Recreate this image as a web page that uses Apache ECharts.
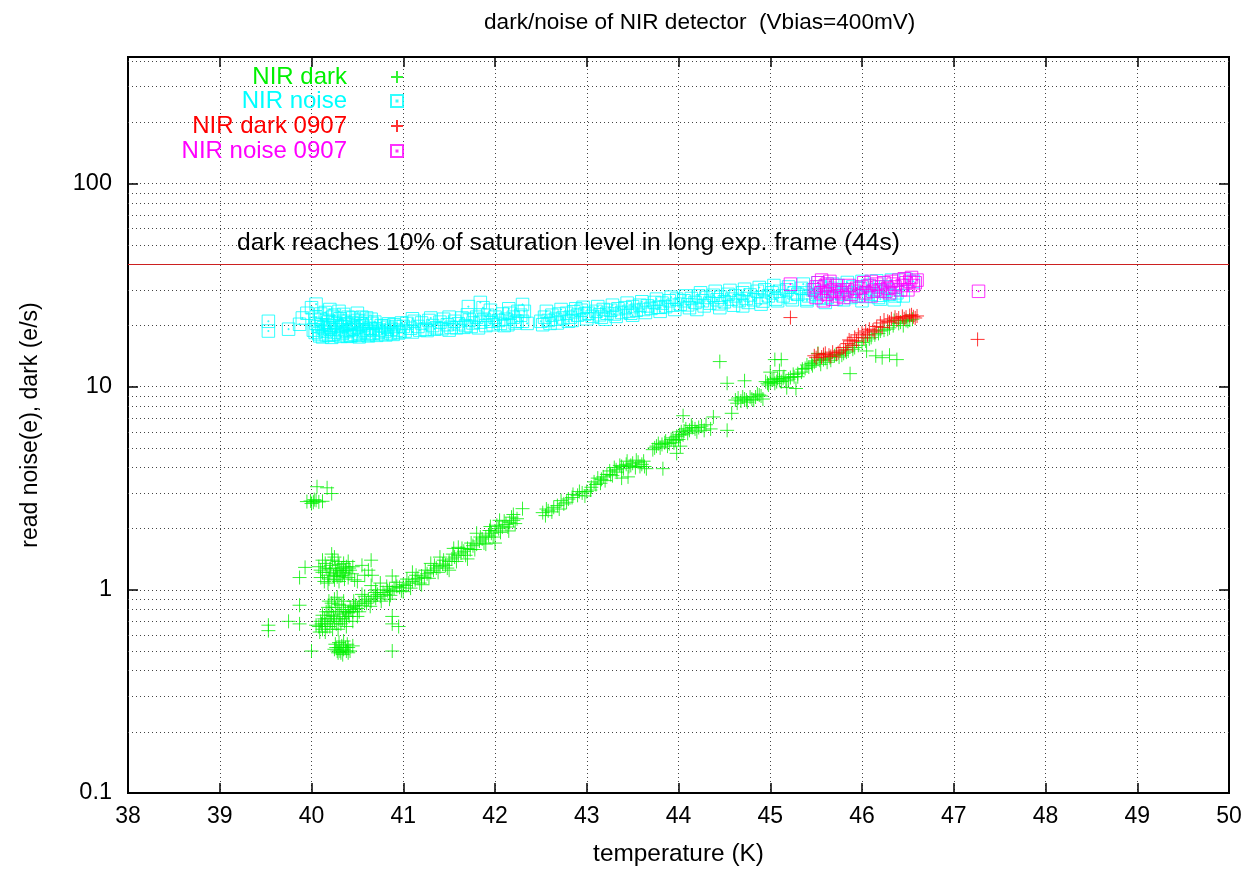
<!DOCTYPE html>
<html>
<head>
<meta charset="utf-8">
<title>dark/noise of NIR detector</title>
<script src="https://cdn.jsdelivr.net/npm/echarts@6/dist/echarts.min.js"></script>
<style>
  html, body { margin: 0; padding: 0; background: #ffffff; }
  #chart { width: 1247px; height: 871px; }
</style>
</head>
<body>
<div id="chart"></div>
<script>
// ---- data: [temperature (K), value] ----
const nirDark = [
  // cluster near 2.7 e/s
  [39.95,2.72],[39.99,2.74],[40.02,2.70],[40.05,2.76],[40.08,2.71],[40.12,2.73],[40.06,3.22],[40.17,3.18],[40.22,2.98],[40.00,2.66],[40.03,2.78],
  // cluster near 1.2
  [40.08,1.30],[40.12,1.22],[40.15,1.35],[40.18,1.18],[40.20,1.27],[40.23,1.40],[40.25,1.12],[40.28,1.25],[40.30,1.33],[40.32,1.17],
  [40.35,1.22],[40.38,1.30],[40.40,1.15],[40.42,1.25],[40.10,1.15],[40.14,1.10],[40.22,1.50],[40.27,1.20],[40.33,1.28],[40.36,1.13],
  [40.44,1.20],[40.47,1.12],[40.12,1.40],[40.18,1.08],[40.25,1.45],[40.30,1.10],[40.40,1.38],[40.20,1.22],[40.28,1.16],[40.35,1.35],
  [40.55,1.32],[40.65,1.40],[40.58,1.18],[40.66,1.18],[40.88,1.17],[40.50,1.10],[40.62,1.25],[39.93,1.29],[39.87,1.15],
  [40.10,1.25],[40.16,1.28],[40.21,1.32],[40.26,1.28],[40.31,1.24],[40.34,1.18],[40.37,1.25],[40.41,1.28],[40.45,1.30],[40.24,1.17],
  [40.19,1.13],[40.29,1.38],
  // cluster 0.6 - 0.95
  [40.08,0.66],[40.10,0.70],[40.12,0.64],[40.15,0.68],[40.18,0.72],[40.20,0.66],[40.22,0.75],[40.25,0.70],[40.28,0.78],[40.30,0.72],
  [40.32,0.68],[40.35,0.80],[40.38,0.74],[40.40,0.77],[40.42,0.82],[40.45,0.78],[40.18,0.82],[40.22,0.86],[40.25,0.90],[40.30,0.85],
  [40.35,0.88],[40.28,0.92],[40.20,0.78],[40.15,0.62],[40.12,0.75],[40.05,0.67],[40.38,0.66],[40.45,0.70],[40.50,0.74],[40.48,0.84],
  [40.11,0.68],[40.14,0.72],[40.17,0.66],[40.21,0.70],[40.24,0.74],[40.27,0.68],[40.31,0.76],[40.34,0.72],[40.37,0.78],[40.41,0.74],
  [40.16,0.78],[40.26,0.82],[40.33,0.84],[40.23,0.64],[40.29,0.64],[40.36,0.70],[40.09,0.62],[40.19,0.88],
  // cluster near 0.5
  [40.25,0.51],[40.28,0.50],[40.30,0.52],[40.32,0.49],[40.35,0.51],[40.38,0.50],[40.40,0.52],[40.42,0.50],[40.30,0.55],[40.35,0.56],
  [40.45,0.53],[40.26,0.54],[40.00,0.50],[40.88,0.50],[40.27,0.52],[40.31,0.50],[40.33,0.53],[40.37,0.52],[40.40,0.49],[40.29,0.49],
  [40.34,0.48],[40.39,0.54],
  // isolated low-temperature points
  [39.53,0.67],[39.53,0.63],[39.75,0.70],[39.87,0.68],[39.87,0.84],[40.88,0.68],[40.95,0.66],[40.88,0.74],
  // main rising band
  [40.40,0.78],[40.43,0.80],[40.46,0.83],[40.50,0.81],[40.52,0.86],[40.55,0.84],[40.58,0.88],[40.60,0.86],[40.62,0.90],[40.65,0.88],
  [40.68,0.93],[40.70,0.91],[40.72,0.95],[40.75,0.93],[40.78,0.97],[40.80,0.95],[40.83,0.99],[40.85,1.00],[40.88,0.98],[40.90,1.02],
  [40.93,1.04],[40.96,1.03],[41.00,1.06],[41.03,1.05],[41.06,1.08],[41.10,1.10],[41.13,1.12],[41.16,1.14],[41.20,1.17],[41.23,1.15],
  [41.26,1.20],[41.30,1.22],[41.33,1.25],[41.36,1.28],[41.40,1.30],[41.43,1.34],[41.46,1.32],[41.50,1.38],[41.53,1.42],[41.56,1.45],
  [41.60,1.48],[41.63,1.52],[41.66,1.55],[41.70,1.60],[41.73,1.58],[41.76,1.65],[41.80,1.68],[41.83,1.74],[41.86,1.78],[41.90,1.82],
  [41.93,1.86],[41.96,1.90],[42.00,1.95],[42.04,2.00],[42.08,2.04],[42.12,2.10],[42.16,2.15],[42.20,2.20],[42.24,2.24],
  [41.50,1.25],[41.60,1.62],[41.40,1.45],[41.70,1.42],[41.80,1.90],[41.90,1.68],[42.00,1.70],[42.05,2.20],[42.15,1.95],[42.30,2.51],
  [42.20,2.35],[40.65,1.05],[40.75,1.08],[40.85,0.90],[41.00,0.98],[41.10,1.22],[41.20,1.06],[41.30,1.35],[40.55,0.95],[40.70,1.00],
  [41.55,1.60],[41.95,2.05],
  [40.46,0.88],[40.52,0.78],[40.58,0.93],[40.64,0.83],[40.70,0.97],[40.76,0.88],[40.82,1.04],[40.86,0.94],[40.92,1.09],[40.98,0.99],
  [41.04,1.13],[41.08,1.02],[41.14,1.18],[41.18,1.08],[41.24,1.25],[41.28,1.14],[41.34,1.32],[41.38,1.22],[41.44,1.40],[41.48,1.28],
  [41.54,1.50],[41.58,1.38],[41.64,1.60],[41.68,1.48],[41.74,1.70],[41.78,1.58],[41.84,1.82],[41.88,1.70],[41.94,1.96],[41.98,1.82],
  [42.02,2.08],[42.06,1.92],[42.10,2.18],[42.14,2.04],[42.18,2.28],[42.22,2.12],
  [42.52,2.40],[42.55,2.32],[42.58,2.45],[42.62,2.42],[42.68,2.60],[42.72,2.75],[42.75,2.65],[42.80,2.80],[42.85,2.95],[42.90,2.92],
  [42.95,3.00],[43.00,3.05],[43.05,3.20],[43.08,3.40],[43.12,3.55],[43.15,3.35],[43.18,3.60],[43.22,3.70],[43.25,3.85],[43.28,3.65],
  [43.30,4.00],[43.33,3.80],[43.36,4.10],[43.40,3.95],[43.43,4.15],[43.46,4.05],[43.50,4.20],[43.53,4.00],[43.56,4.25],[43.60,4.15],
  [43.63,4.05],[43.38,3.55],[43.45,3.60],[43.83,3.95],
  [42.56,2.50],[42.64,2.55],[42.70,2.50],[42.78,2.70],[42.84,2.85],[42.92,3.05],[42.98,2.90],[43.04,3.10],[43.10,3.30],[43.16,3.50],
  [43.20,3.45],[43.26,3.70],[43.32,3.90],[43.38,4.05],[43.44,4.30],[43.48,4.10],[43.54,4.35],[43.58,4.05],[43.62,4.30],[43.65,3.95],
  [43.72,4.90],[43.76,5.10],[43.80,5.00],[43.85,5.30],[43.88,5.10],[43.92,5.50],[43.95,5.30],[43.98,5.70],[44.00,5.50],[44.03,6.00],
  [44.05,5.80],[44.08,6.20],[44.12,6.10],[44.15,6.30],[44.20,6.00],[44.25,6.40],[44.30,6.50],[44.35,6.20],[44.05,7.20],[44.02,5.10],
  [43.98,4.70],[44.38,7.10],
  [43.74,5.00],[43.78,5.25],[43.82,5.20],[43.86,5.40],[43.90,5.25],[43.94,5.60],[43.97,5.45],[44.01,5.80],[44.06,6.05],[44.10,5.90],
  [44.14,6.45],[44.18,6.20],[44.22,6.30],[44.28,6.10],
  [44.53,6.10],[44.58,7.40],[44.62,8.60],[44.65,8.80],[44.68,8.50],[44.72,8.70],[44.75,8.40],[44.78,8.90],[44.82,8.60],[44.86,9.20],
  [44.90,9.00],[44.53,10.40],[44.72,10.70],[44.95,10.60],[44.98,10.20],[45.02,10.80],[45.05,10.40],[45.08,11.00],[45.12,10.60],[45.15,11.20],
  [45.20,10.90],[45.25,11.50],[45.30,11.20],[45.00,11.80],[45.10,12.00],[45.05,13.60],[45.12,13.60],[44.45,13.30],[45.18,9.90],[45.28,9.80],
  [44.64,8.30],[44.70,8.90],[44.74,8.60],[44.80,8.70],[44.84,8.90],[44.88,9.10],[44.92,8.70],[44.97,10.40],[45.00,10.50],[45.04,10.90],
  [45.07,10.60],[45.10,10.80],[45.14,11.00],[45.17,10.70],[45.22,11.10],[45.26,11.20],[45.30,11.60],[45.34,11.80],[45.38,12.30],[45.42,12.50],
  [45.46,12.70],[45.48,13.20],[45.54,13.50],[45.60,13.80],[45.66,13.50],[45.72,14.40],[45.78,14.30],[45.83,14.80],
  [45.35,12.20],[45.40,12.80],[45.45,13.00],[45.50,13.40],[45.55,12.90],[45.58,13.60],[45.62,13.20],[45.65,13.90],[45.70,14.20],[45.75,14.00],
  [45.80,14.60],[45.85,15.00],[45.90,15.30],[45.87,11.60],[45.52,14.60],[46.05,15.00],[46.15,14.20],[46.22,13.90],[46.30,14.30],[46.38,13.60],
  [46.00,16.50],[46.10,17.50],[46.20,18.80],[46.30,19.50],[46.40,20.50],[46.50,21.00],[46.55,21.50],[46.45,20.00],[46.35,21.20],
  [45.92,15.60],[45.96,16.00],[46.04,16.80],[46.08,17.20],[46.14,18.00],[46.18,18.30],[46.24,19.00],[46.28,19.20],[46.34,20.00],[46.42,20.80],
  [46.48,21.20],[46.52,21.30]
];

const nirNoise = [
  [39.53,21.0],[39.53,18.8],[39.75,19.2],[39.87,20.3],[39.90,21.8],[39.95,23.0],[40.00,24.5],[40.05,22.0],[40.05,25.5],[40.20,24.0],[40.50,23.0],
  [40.02,19.0],[40.05,20.5],[40.08,18.2],[40.10,21.5],[40.13,19.5],[40.16,18.0],[40.18,20.8],[40.20,19.2],[40.23,22.0],[40.25,18.5],
  [40.28,20.0],[40.30,18.0],[40.33,19.8],[40.35,21.0],[40.38,18.7],[40.40,20.3],[40.43,17.8],[40.46,19.5],[40.50,21.2],[40.53,18.3],
  [40.56,20.0],[40.60,19.0],[40.63,18.2],[40.66,20.5],[40.70,19.3],[40.73,18.5],[40.76,20.0],[40.80,18.8],[40.83,19.6],[40.86,18.4],
  [40.90,20.2],[40.93,19.0],[40.96,18.6],[41.00,19.8],[40.15,23.2],[40.25,22.5],[40.35,22.7],[40.45,21.8],[40.55,22.0],[40.65,21.5],
  [40.12,17.6],[40.22,17.5],[40.32,17.7],[40.42,17.9],[40.52,17.6],[40.62,17.8],
  [40.04,18.5],[40.07,19.8],[40.09,17.8],[40.11,20.2],[40.14,18.8],[40.17,21.2],[40.19,17.9],[40.21,19.6],[40.24,18.1],[40.26,20.6],
  [40.29,19.1],[40.31,21.6],[40.34,18.4],[40.37,20.1],[40.39,17.7],[40.41,19.0],[40.44,20.7],[40.47,18.1],[40.49,19.7],[40.51,17.9],
  [40.54,20.4],[40.57,18.6],[40.59,21.0],[40.61,18.0],[40.64,19.4],[40.67,18.3],[40.69,20.8],[40.71,17.9],[40.74,19.0],[40.77,18.2],
  [40.79,19.9],[40.81,18.0],[40.84,20.4],[40.87,19.2],[40.89,18.1],[40.92,19.8],[40.95,18.4],[40.98,20.6],[40.10,22.8],[40.30,23.5],
  [40.40,22.0],[40.60,21.8],[40.20,20.0],[40.45,19.2],
  [41.04,20.5],[41.08,19.4],[41.12,21.0],[41.16,19.8],[41.20,20.6],[41.24,19.2],[41.28,21.2],[41.32,20.0],[41.36,19.5],[41.40,20.8],
  [41.44,21.5],[41.48,20.2],[41.52,19.6],[41.56,21.0],[41.60,20.4],[41.64,21.8],[41.68,20.0],[41.72,21.3],[41.76,20.6],[41.80,22.0],
  [41.84,20.8],[41.88,21.5],[41.92,22.5],[41.96,21.0],[42.00,22.0],[41.71,24.8],[41.84,26.0],[41.87,24.5],[42.04,21.2],[42.08,22.8],
  [42.12,21.5],[42.16,23.0],[42.20,22.0],[42.24,21.0],[42.28,22.5],[42.32,23.5],[42.30,25.4],[42.35,20.5],
  [41.02,18.8],[41.10,18.6],[41.18,19.0],[41.26,18.9],[41.34,19.2],[41.42,19.3],[41.50,19.0],[41.58,19.5],[41.66,19.6],[41.74,19.8],
  [41.82,19.5],[41.90,20.0],[41.98,20.2],[42.06,20.5],[42.14,20.2],[42.22,20.6],[42.30,21.0],[41.10,21.6],[41.30,21.8],[41.50,22.0],
  [41.70,22.6],[41.95,23.8],[42.15,24.2],[42.25,23.5],[42.10,20.0],
  [42.50,21.0],[42.54,22.0],[42.58,21.2],[42.62,22.5],[42.66,21.5],[42.70,22.8],[42.74,21.8],[42.78,23.0],[42.82,22.0],[42.86,23.4],
  [42.90,22.5],[42.94,23.8],[42.98,22.8],[42.60,20.5],[42.80,21.0],[42.88,24.2],
  [43.02,23.0],[43.06,22.2],[43.10,23.5],[43.14,22.6],[43.18,24.0],[43.22,23.0],[43.26,23.8],[43.30,22.8],[43.34,24.2],[43.38,23.2],
  [43.42,24.5],[43.46,23.5],[43.50,24.8],[43.54,23.8],[43.58,25.2],[43.62,24.0],[43.66,25.0],[43.70,24.3],[43.74,26.0],[43.78,24.6],
  [43.82,25.8],[43.86,24.8],[43.90,26.5],[43.94,25.2],[43.98,27.0],[44.02,25.5],[43.20,21.5],[43.50,22.5],[43.80,23.5],
  [44.06,26.5],[44.10,25.3],[44.14,27.2],[44.18,26.0],[44.22,28.0],[44.26,26.5],[44.30,27.5],[44.34,25.8],[44.38,28.2],[44.42,26.8],
  [44.46,27.6],[44.50,26.2],[44.54,28.5],[44.58,27.0],[44.62,28.0],[44.66,26.5],[44.70,29.0],[44.74,27.2],[44.78,28.3],[44.82,26.8],
  [44.86,29.5],[44.90,27.5],[44.94,30.0],[44.98,28.0],[44.20,24.0],[44.45,24.5],[44.70,25.0],[44.90,25.5],
  [45.02,29.0],[45.06,27.0],[45.10,29.5],[45.14,28.0],[45.18,30.0],[45.22,27.5],[45.26,29.0],[45.30,28.5],[45.34,30.5],[45.38,29.0],
  [45.42,28.0],[45.46,30.0],[45.50,28.5],[45.54,31.0],[45.58,29.5],[45.62,27.5],[45.66,30.5],[45.70,29.0],[45.74,31.5],[45.78,28.5],
  [45.82,30.0],[45.86,29.0],[45.90,31.0],[45.94,28.0],[45.98,30.5],[46.02,29.0],[46.06,31.5],[46.10,28.5],[46.14,30.0],[46.18,27.5],
  [46.22,29.5],[46.26,31.0],[46.30,28.5],[46.34,30.0],[46.38,29.0],[45.40,26.5],[45.60,26.0],[45.80,26.8],[46.00,26.5],[46.20,27.0],
  [46.35,26.8],[46.45,28.0],
  [42.52,20.2],[42.68,20.6],[42.84,21.2],[43.00,21.6],[43.16,22.0],[43.32,22.2],[43.48,23.0],[43.64,23.2],[43.80,24.6],[43.96,24.0],
  [44.12,24.5],[44.28,25.0],[44.44,25.6],[44.60,25.2],[44.76,26.0],[44.92,26.4],[45.08,26.5],[45.24,26.8],[45.40,27.0],[45.56,27.2],
  [45.72,27.0],[45.88,27.5],[46.04,27.8],[46.20,28.2],[46.36,28.0],
  [42.56,23.5],[42.72,24.0],[42.96,24.6],[43.12,24.8],[43.28,25.2],[43.44,25.8],[43.60,26.2],[43.76,27.0],[43.92,27.6],[44.08,28.0],
  [44.24,29.0],[44.40,29.5],[44.56,29.8],[44.72,30.2],[44.88,30.8],[45.04,31.5],[45.20,31.0],[45.36,32.0],[45.52,32.5],[45.68,32.0],
  [45.84,32.6],[46.00,33.0],[46.16,33.2],[46.32,33.5],[46.48,33.8],[46.56,33.0]
];

const nirDark0907 = [
  [45.22,21.9],[47.26,17.1],
  [45.48,14.2],[45.52,14.5],[45.56,14.0],[45.60,14.6],[45.64,14.3],[45.68,14.8],[45.72,14.5],[45.76,15.0],[45.80,15.6],[45.84,16.3],
  [45.88,16.8],[45.92,17.5],[45.96,18.0],[46.00,18.4],[46.04,18.8],[46.08,19.2],[46.12,19.0],[46.16,19.8],[46.20,20.6],[46.24,21.3],
  [46.28,21.0],[46.32,21.6],[46.36,22.0],[46.40,21.8],[46.44,22.2],[46.48,22.0],[46.52,22.4],[46.56,22.1],[46.60,22.3],[45.90,16.0],
  [46.02,17.4],
  [45.50,13.9],[45.58,14.4],[45.66,14.1],[45.74,14.7],[45.82,15.2],[45.86,17.0],[45.94,16.8],[46.06,18.0],[46.14,18.6],[46.22,19.6],
  [46.30,20.8],[46.38,21.3],[46.46,21.6],[46.54,22.6],[46.58,21.8]
];

const nirNoise0907 = [
  [45.22,32.0],[47.27,29.5],
  [45.48,30.0],[45.50,27.5],[45.52,32.5],[45.55,29.0],[45.58,26.5],[45.60,31.5],[45.62,28.5],[45.65,33.0],[45.68,27.0],[45.70,30.0],
  [45.73,28.0],[45.76,29.5],[45.80,27.5],[45.84,30.0],[45.88,28.5],[45.92,29.5],[45.96,28.0],[46.00,31.0],[46.04,29.0],[46.08,31.5],
  [46.12,29.5],[46.16,32.0],[46.20,30.0],[46.24,32.5],[46.28,30.5],[46.32,33.0],[46.36,31.0],[46.40,33.5],[46.44,31.5],[46.48,32.5],
  [46.52,33.0],[46.56,31.5],[46.60,33.5],[46.10,28.0],[46.30,29.0],[46.50,30.0],
  [45.50,31.0],[45.56,33.5],[45.62,32.0],[45.66,29.5],[45.72,31.5],[45.78,29.0],[45.86,31.5],[45.94,30.5],[46.02,32.5],[46.10,33.0],
  [46.18,31.0],[46.26,29.5],[46.34,32.0],[46.42,30.0],[46.46,34.0],[46.54,34.5],[46.58,32.5]
];

// axis ranges and grid levels
const xRange = [38, 50];
const yRange = [0.1, 420];
const yMinorGrid = [0.2,0.3,0.4,0.5,0.6,0.7,0.8,0.9, 2,3,4,5,6,7,8,9, 20,30,40,50,60,70,80,90, 200,300,400];
const saturationLevel = 40;   // 10% of saturation in the 44 s frame
const saturationText = 'dark reaches 10% of saturation level in long exp. frame (44s)';

const FONT = '"Liberation Sans", Helvetica, Arial, sans-serif';
const PLUS = 'path://M0,6H12M6,0V12';
const BOX = 'path://M0,0H12V12H0Z M5.5,5.5H6.5V6.5H5.5Z';
const GRID_DOT = { color: '#444', width: 1, type: [1, 3] };

const seriesDefs = [
  { name: 'NIR dark', data: nirDark, color: '#00f000', symbol: PLUS, size: 14 },
  { name: 'NIR noise', data: nirNoise, color: '#00ffff', symbol: BOX, size: 12.5 },
  { name: 'NIR dark 0907', data: nirDark0907, color: '#ff0000', symbol: PLUS, size: 14 },
  { name: 'NIR noise 0907', data: nirNoise0907, color: '#ff00ff', symbol: BOX, size: 12.5 }
];

const legendRowTop = [65, 89, 114, 139];

const chart = echarts.init(document.getElementById('chart'), null, { renderer: 'canvas' });

const series = seriesDefs.map(function (d, i) {
  const s = {
    name: d.name,
    type: 'scatter',
    data: d.data,
    symbol: d.symbol,
    symbolSize: d.size,
    itemStyle: { color: 'transparent', borderColor: d.color, borderWidth: 1 },
    emphasis: { disabled: true },
    z: 3 + i
  };
  if (i === 0) {
    s.markLine = {
      silent: true,
      symbol: 'none',
      animation: false,
      z: 1,
      label: { show: false },
      data: yMinorGrid.map(function (v) {
        return { yAxis: v, lineStyle: GRID_DOT };
      }).concat([{ yAxis: saturationLevel, lineStyle: { color: '#cc2020', width: 1, type: 'solid' } }])
    };
  }
  return s;
});

const legends = seriesDefs.map(function (d, i) {
  return {
    data: [d.name],
    orient: 'vertical',
    align: 'right',
    right: 843,
    top: legendRowTop[i],
    itemWidth: 12,
    itemHeight: 12,
    selectedMode: false,
    padding: 0,
    textStyle: { color: d.color, fontSize: 24, fontFamily: FONT, padding: [0, 39, 0, 0] }
  };
});

function fmtLog(v) {
  const l = Math.log10(v);
  if (Math.abs(l - Math.round(l)) > 1e-6) return '';
  const p = Math.round(l);
  return p < 0 ? String(Math.pow(10, p).toFixed(-p)) : String(Math.round(Math.pow(10, p)));
}

const option = {
  animation: false,
  backgroundColor: '#ffffff',
  title: {
    text: 'dark/noise of NIR detector  (Vbias=400mV)',
    left: 479,
    top: 6,
    textStyle: { fontSize: 22.6, fontWeight: 'normal', color: '#000', fontFamily: FONT }
  },
  legend: legends,
  grid: {
    left: 128, right: 18, top: 57, bottom: 77,
    show: true, borderColor: '#000', borderWidth: 2, backgroundColor: 'transparent'
  },
  graphic: [{
    type: 'text',
    left: 237,
    top: 231,
    style: { text: saturationText, fontSize: 24.6, fontFamily: FONT, fill: '#000' },
    z: 10
  }],
  xAxis: [{
    type: 'value',
    min: xRange[0], max: xRange[1], interval: 1,
    name: 'temperature (K)',
    nameLocation: 'middle',
    nameGap: 49,
    nameTextStyle: { fontSize: 24.4, color: '#000', fontFamily: FONT },
    axisLine: { lineStyle: { color: '#000', width: 2 } },
    axisTick: { inside: true, length: 10, lineStyle: { color: '#000', width: 1.5 } },
    axisLabel: { fontSize: 23, color: '#000', fontFamily: FONT, margin: 12 },
    splitLine: { show: true, lineStyle: GRID_DOT }
  }, {
    type: 'value', position: 'top',
    min: xRange[0], max: xRange[1], interval: 1,
    axisLine: { lineStyle: { color: '#000', width: 2 } },
    axisTick: { inside: true, length: 10, lineStyle: { color: '#000', width: 1.5 } },
    axisLabel: { show: false },
    splitLine: { show: false }
  }],
  yAxis: [{
    type: 'log', logBase: 10,
    min: yRange[0], max: yRange[1],
    name: 'read noise(e), dark (e/s)',
    nameLocation: 'middle',
    nameGap: 86,
    nameTextStyle: { fontSize: 23, color: '#000', fontFamily: FONT },
    axisLine: { lineStyle: { color: '#000', width: 2 } },
    axisTick: { inside: true, length: 10, lineStyle: { color: '#000', width: 1.5 } },
    axisLabel: { fontSize: 23.5, color: '#000', fontFamily: FONT, margin: 16, formatter: fmtLog },
    splitLine: { show: true, lineStyle: GRID_DOT }
  }, {
    type: 'log', logBase: 10, position: 'right',
    min: yRange[0], max: yRange[1],
    axisLine: { lineStyle: { color: '#000', width: 2 } },
    axisTick: { inside: true, length: 10, lineStyle: { color: '#000', width: 1.5 } },
    axisLabel: { show: false },
    splitLine: { show: false }
  }],
  series: series
};

chart.setOption(option);
</script>
</body>
</html>
